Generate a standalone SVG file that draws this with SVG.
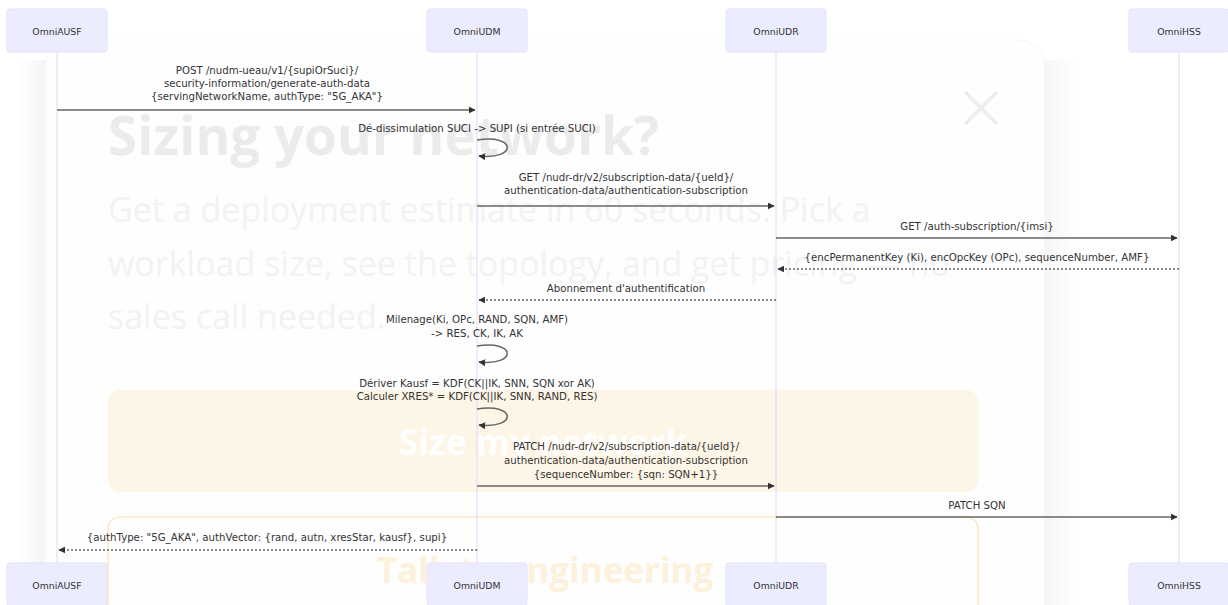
<svg xmlns="http://www.w3.org/2000/svg" width="1228" height="605" viewBox="0 0 1228 605">
<style>
.actor{fill:#ECECFF;stroke:#e4e1fb;stroke-width:1}
.atext{font-family:"DejaVu Sans","Liberation Sans",sans-serif;font-size:9.3px;fill:#333;text-anchor:middle;dominant-baseline:central}
.life{stroke:#e2defa;stroke-width:1.2}
.msg{font-family:"DejaVu Sans","Liberation Sans",sans-serif;font-size:10.2px;fill:#333;text-anchor:middle}
.line{stroke:#666;stroke-width:1.5;fill:none}
.dash{stroke:#666;stroke-width:1.5;fill:none;stroke-dasharray:2,2}
.ov{font-family:"Open Sans","Liberation Sans",sans-serif}
</style>
<defs>
<marker id="ah" viewBox="0 0 10 10" refX="9" refY="5" markerWidth="7" markerHeight="7" orient="auto-start-reverse" markerUnits="userSpaceOnUse">
<path d="M0,0 L10,5 L0,10 z" fill="#333"/>
</marker>
<linearGradient id="shl" x1="0" x2="1" y1="0" y2="0">
<stop offset="0" stop-color="#f2f2f2" stop-opacity="0"/>
<stop offset="1" stop-color="#f0f0f0" stop-opacity="0.7"/>
</linearGradient>
<linearGradient id="shr" x1="0" x2="1" y1="0" y2="0">
<stop offset="0" stop-color="#f0f0f0" stop-opacity="0.7"/>
<stop offset="1" stop-color="#f2f2f2" stop-opacity="0"/>
</linearGradient>
</defs>
<rect width="1228" height="605" fill="#ffffff"/>
<g id="overlay">
<rect x="15" y="60" width="32" height="550" fill="url(#shl)"/>
<rect x="1043" y="60" width="32" height="550" fill="url(#shr)"/>
<rect x="45" y="40" width="1000" height="600" rx="26" fill="#fefefe" stroke="#f6f6f6" stroke-width="1"/>
<text class="ov" x="108" y="155" font-size="53" font-weight="700" fill="#ebebeb">Sizing your network?</text>
<text class="ov" x="108" y="222" font-size="34" fill="#f2f2f2">Get a deployment estimate in 60 seconds. Pick a</text>
<text class="ov" x="108" y="276" font-size="34" fill="#f2f2f2">workload size, see the topology, and get pricing — no</text>
<text class="ov" x="108" y="329" font-size="34" fill="#f2f2f2">sales call needed.</text>
<path d="M965,92 L997,124 M997,92 L965,124" stroke="#ededed" stroke-width="3.5"/>
<rect x="108" y="390" width="870" height="102" rx="12" fill="#fdf5e6"/>
<text class="ov" x="543" y="455" font-size="35" font-weight="700" fill="#ffffff" text-anchor="middle">Size my network</text>
<rect x="108" y="517" width="870" height="110" rx="12" fill="none" stroke="#fcecd0" stroke-width="2"/>
<text class="ov" x="545" y="583" font-size="35" font-weight="700" fill="#fdf1dc" text-anchor="middle">Talk to engineering</text>
</g>
<g id="lifelines">
<line class="life" x1="57" y1="52" x2="57" y2="563"/>
<line class="life" x1="477" y1="52" x2="477" y2="563"/>
<line class="life" x1="776" y1="52" x2="776" y2="563"/>
<line class="life" x1="1179" y1="52" x2="1179" y2="563"/>
</g>
<g id="OmniAUSF">
<rect class="actor" x="7" y="9" width="100" height="43" rx="3"/>
<text class="atext" x="57" y="31">OmniAUSF</text>
<rect class="actor" x="7" y="563" width="100" height="43" rx="3"/>
<text class="atext" x="57" y="585">OmniAUSF</text>
</g>
<g id="OmniUDM">
<rect class="actor" x="427" y="9" width="100" height="43" rx="3"/>
<text class="atext" x="477" y="31">OmniUDM</text>
<rect class="actor" x="427" y="563" width="100" height="43" rx="3"/>
<text class="atext" x="477" y="585">OmniUDM</text>
</g>
<g id="OmniUDR">
<rect class="actor" x="726" y="9" width="100" height="43" rx="3"/>
<text class="atext" x="776" y="31">OmniUDR</text>
<rect class="actor" x="726" y="563" width="100" height="43" rx="3"/>
<text class="atext" x="776" y="585">OmniUDR</text>
</g>
<g id="OmniHSS">
<rect class="actor" x="1129" y="9" width="100" height="43" rx="3"/>
<text class="atext" x="1179" y="31">OmniHSS</text>
<rect class="actor" x="1129" y="563" width="100" height="43" rx="3"/>
<text class="atext" x="1179" y="585">OmniHSS</text>
</g>
<g id="connectors">
<text class="msg" x="267" y="74">POST /nudm-ueau/v1/{supiOrSuci}/</text>
<text class="msg" x="267" y="87">security-information/generate-auth-data</text>
<text class="msg" x="267" y="100">{servingNetworkName, authType: "5G_AKA"}</text>
<line class="line" x1="57" y1="110" x2="475" y2="110" marker-end="url(#ah)"/>

<text class="msg" x="477" y="132">Dé-dissimulation SUCI -&gt; SUPI (si entrée SUCI)</text>
<path class="line" d="M477,140 C517,134 517,160 479,156" marker-end="url(#ah)"/>

<text class="msg" x="626" y="181">GET /nudr-dr/v2/subscription-data/{ueId}/</text>
<text class="msg" x="626" y="194">authentication-data/authentication-subscription</text>
<line class="line" x1="477" y1="206" x2="774" y2="206" marker-end="url(#ah)"/>

<text class="msg" x="977" y="230">GET /auth-subscription/{imsi}</text>
<line class="line" x1="776" y1="238" x2="1177" y2="238" marker-end="url(#ah)"/>

<text class="msg" x="977" y="261">{encPermanentKey (Ki), encOpcKey (OPc), sequenceNumber, AMF}</text>
<line class="dash" x1="1179" y1="269" x2="778" y2="269" marker-end="url(#ah)"/>

<text class="msg" x="626" y="292">Abonnement d'authentification</text>
<line class="dash" x1="776" y1="300" x2="479" y2="300" marker-end="url(#ah)"/>

<text class="msg" x="477" y="323">Milenage(Ki, OPc, RAND, SQN, AMF)</text>
<text class="msg" x="477" y="337">-&gt; RES, CK, IK, AK</text>
<path class="line" d="M477,346 C517,340 517,366 479,362" marker-end="url(#ah)"/>

<text class="msg" x="477" y="387">Dériver Kausf = KDF(CK||IK, SNN, SQN xor AK)</text>
<text class="msg" x="477" y="400">Calculer XRES* = KDF(CK||IK, SNN, RAND, RES)</text>
<path class="line" d="M477,409 C517,403 517,429 479,425" marker-end="url(#ah)"/>

<text class="msg" x="626" y="450">PATCH /nudr-dr/v2/subscription-data/{ueId}/</text>
<text class="msg" x="626" y="464">authentication-data/authentication-subscription</text>
<text class="msg" x="626" y="478">{sequenceNumber: {sqn: SQN+1}}</text>
<line class="line" x1="477" y1="486" x2="774" y2="486" marker-end="url(#ah)"/>

<text class="msg" x="977" y="509">PATCH SQN</text>
<line class="line" x1="776" y1="517" x2="1177" y2="517" marker-end="url(#ah)"/>

<text class="msg" x="267" y="541">{authType: "5G_AKA", authVector: {rand, autn, xresStar, kausf}, supi}</text>
<line class="dash" x1="477" y1="550" x2="59" y2="550" marker-end="url(#ah)"/>
</g>
</svg>
